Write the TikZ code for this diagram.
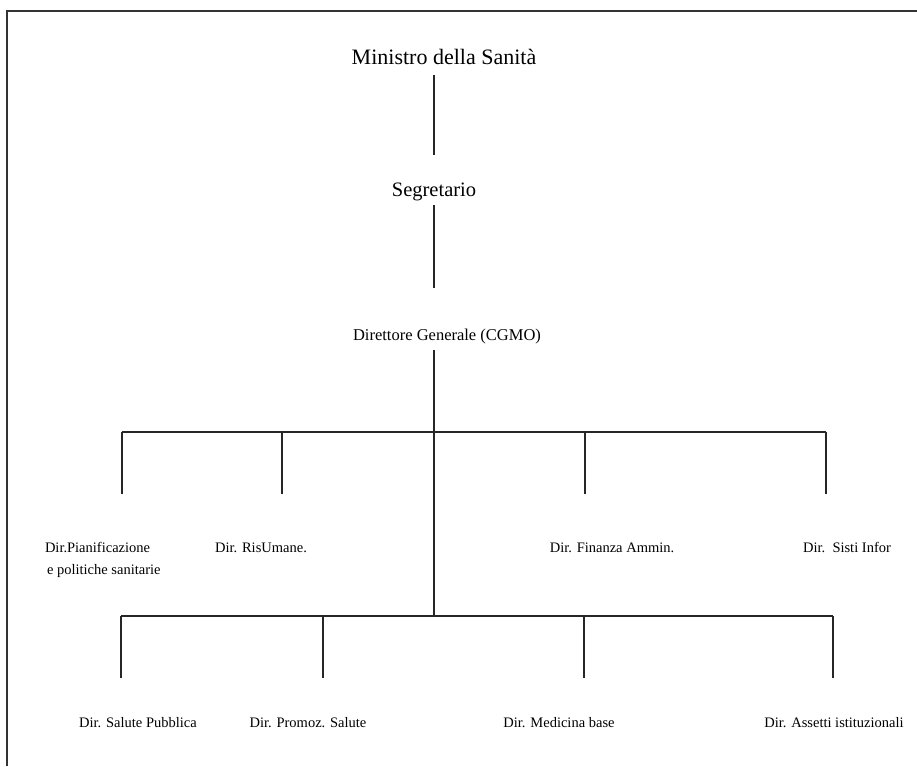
\documentclass[tikz,border=0pt]{standalone}
\usepackage{fontspec}
\setmainfont{Liberation Serif}
\begin{document}
\begin{tikzpicture}[x=1pt,y=-1pt,
  conn/.style={draw=black!85, line width=1.1pt},
  frameline/.style={draw=black!80, line width=1.4pt},
  lab/.style={inner sep=0pt, outer sep=0pt, text depth=0pt},
  small/.style={lab, font=\fontsize{14.5}{22}\selectfont, text height=10pt},
  mid/.style={lab, font=\fontsize{16.5}{20}\selectfont, text height=11.5pt},
  big/.style={lab, font=\fontsize{22}{26}\selectfont, text height=15pt}]
\useasboundingbox (0,0) rectangle (917,766);
% frame (top and left edges visible)
\coordinate (fbl) at (7,766);
\coordinate (ftl) at (7,11);
\coordinate (ftr) at (917,11);
\draw[frameline] (fbl) -- (ftl) -- (ftr);

% top nodes
\node[big] (min) at (444,56.5) {Ministro della Sanità};
\node[big, font=\fontsize{20.5}{24}\selectfont, text height=14.5pt] (seg) at (434,188.75) {Segretario};
\node[mid] (dg) at (447,334.25) {Direttore Generale (CGMO)};

\draw[conn, shorten <=11pt, shorten >=26.5pt] (min.south -| seg.north) -- (seg.north);
\draw[conn, shorten <=9pt, shorten >=40.5pt] (seg.south) -- (seg.south |- dg.north);

% junctions
\coordinate (top) at (434,432);
\coordinate (bot) at (434,616);
\draw[conn, shorten <=10pt] (dg.south -| top) -- (top) -- (bot);

% upper level
\coordinate (u1) at (122,432);
\coordinate (u2) at (282,432);
\coordinate (u4) at (585,432);
\coordinate (u5) at (826,432);
\draw[conn] (u1) -- (u5);

\node[lab, font=\fontsize{14.5}{22}\selectfont, align=left, anchor=north west] (pian) at (45,542) {Dir.Pianificazione\\\hspace*{2pt}e politiche sanitarie};
\node[small] (ris) at (261,547) {Dir. RisUmane.};
\node[small] (fin) at (612,547) {Dir. Finanza Ammin.};
\node[small] (sis) at (847,547) {Dir.\ \ Sisti Infor};

\draw[conn, shorten >=48pt] (u1) -- (u1 |- pian.north);
\draw[conn, shorten >=48pt] (u2) -- (u2 |- ris.north);
\draw[conn, shorten >=48pt] (u4) -- (u4 |- fin.north);
\draw[conn, shorten >=48pt] (u5) -- (u5 |- sis.north);

% lower level
\coordinate (l1) at (121,616);
\coordinate (l2) at (323,616);
\coordinate (l3) at (584,616);
\coordinate (l4) at (833,616);
\draw[conn] (l1) -- (l4);

\node[small] (sal) at (138,722) {Dir. Salute Pubblica};
\node[small] (pro) at (308,722) {Dir. Promoz. Salute};
\node[small] (med) at (559,722) {Dir. Medicina base};
\node[small] (ass) at (834,722) {Dir. Assetti istituzionali};

\draw[conn, shorten >=39pt] (l1) -- (l1 |- sal.north);
\draw[conn, shorten >=39pt] (l2) -- (l2 |- pro.north);
\draw[conn, shorten >=39pt] (l3) -- (l3 |- med.north);
\draw[conn, shorten >=39pt] (l4) -- (l4 |- ass.north);
\end{tikzpicture}
\end{document}
